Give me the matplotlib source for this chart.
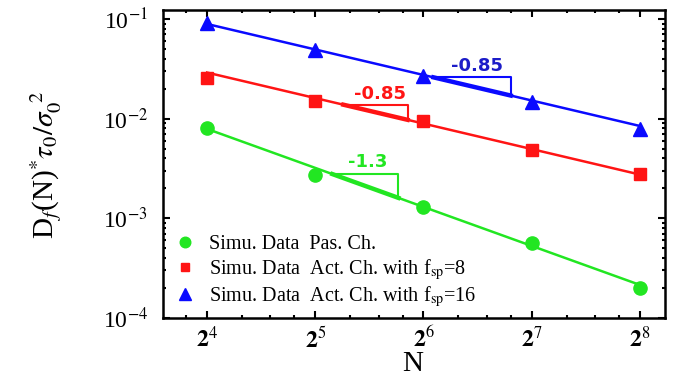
import matplotlib
matplotlib.use('Agg')
import matplotlib.pyplot as plt
import matplotlib.ticker as ticker
import numpy as np

plt.rcParams['mathtext.fontset'] = 'stix'
plt.rcParams['font.family'] = ['Liberation Serif', 'DejaVu Serif']

# simulation data
N = [16, 32, 64, 128, 256]
pas = [0.0081, 0.0027, 0.00129, 0.00056, 0.000200]
act8 = [0.0257, 0.0151, 0.0095, 0.0048, 0.0028]
act16 = [0.091, 0.049, 0.027, 0.0148, 0.0079]

# power law fits: prefactor, exponent
fit_pas = (0.290, -1.3)
fit_act8 = (0.306, -0.85)
fit_act16 = (0.94, -0.85)

# slope triangles: (N start, N end), label position, label
tri_pas = ((35.7, 54.5), (44.7, 0.0037), '-1.3')
tri_act8 = ((38.3, 57.8), (48.5, 0.0178), '-0.85')
tri_act16 = ((68.2, 111.9), (90.0, 0.034), '-0.85')

labels = ['Simu. Data  Pas. Ch.',
          r'Simu. Data  Act. Ch. with f$_{\rm sp}$=8',
          r'Simu. Data  Act. Ch. with f$_{\rm sp}$=16']

green = '#22e622'
red = '#ff1414'
blue = '#0a0aff'

fig = plt.figure(figsize=(6.8, 3.77), dpi=100)
ax = fig.add_axes([0.2397, 0.1565, 0.7383, 0.817])
ax.set_xscale('log', base=2)
ax.set_yscale('log')

xx = np.array([16, 256])
series = [(pas, fit_pas, tri_pas, green, 'o', 9.5, green),
          (act8, fit_act8, tri_act8, red, 's', 8, red),
          (act16, fit_act16, tri_act16, blue, '^', 10.5, '#1c1cc8')]

for i, (d, fit, tri, c, m, ms, tc) in enumerate(series):
    A, b = fit
    ax.plot(xx, A * xx**b, '-', color=c, lw=1.8, zorder=2)
    ax.plot(N, d, m, color=c, ms=ms, ls='none', label=labels[i], zorder=3)
    (x1, x2), (tx, ty), t = tri
    y1 = A * x1**b
    y2 = A * x2**b
    ax.plot([x1, x2, x2], [y1, y1, y2], '-', color=c, lw=1.5, zorder=2)
    ax.plot([x1, x2], [y1, y2], '-', color=c, lw=3.2, zorder=2)
    ax.text(tx, ty, t, color=tc, fontsize=13, fontweight='bold',
            family='DejaVu Sans', ha='center', va='center')

ax.set_xlim(12.07, 300.6)
ax.set_ylim(1e-4, 0.123)

ax.set_xticks(N)
ax.set_xticklabels([r'$\mathbf{2}^{%d}$' % k for k in range(4, 9)], fontsize=17)
ax.xaxis.set_minor_locator(ticker.LogLocator(base=2, subs=[1.25, 1.5, 1.75]))
ax.xaxis.set_minor_formatter(ticker.NullFormatter())
ax.set_yticks([1e-4, 1e-3, 1e-2, 1e-1])
ax.set_yticklabels([r'10$^{-4}$', r'10$^{-3}$', r'10$^{-2}$', r'10$^{-1}$'], fontsize=17)
ax.yaxis.set_minor_locator(ticker.LogLocator(base=10, subs=np.arange(2, 10)))
ax.yaxis.set_minor_formatter(ticker.NullFormatter())

ax.tick_params(which='both', direction='in', top=True, right=True, width=1.5)
ax.tick_params(which='major', length=5, pad=6)
ax.tick_params(axis='y', which='major', pad=11)
ax.tick_params(which='minor', length=2.5)
for s in ax.spines.values():
    s.set_linewidth(1.8)

ax.set_xlabel('N', fontsize=21)
ax.xaxis.set_label_coords(0.498, -0.108)
ax.set_ylabel(r'D$_f$(N)$^{*}\tau_0/\sigma_0^{\;\;2}$', fontsize=21)
ax.yaxis.set_label_coords(-0.197, 0.497)

ax.legend(loc='lower left', bbox_to_anchor=(0.008, 0.0), frameon=False,
          fontsize=14.5, handletextpad=0.75, labelspacing=0.12, handlelength=0.9,
          markerscale=0.8, borderaxespad=0.05)

fig.savefig('out.png', dpi=100)
